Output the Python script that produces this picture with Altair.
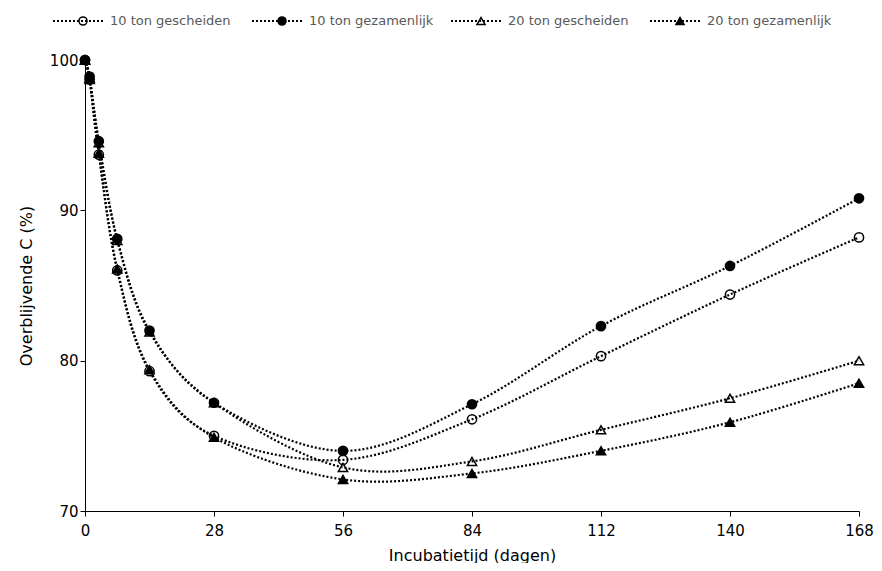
import altair as alt
import pandas as pd

days = [0, 1, 3, 7, 14, 28, 56, 84, 112, 140, 168]
series = ["10 ton gescheiden", "10 ton gezamenlijk", "20 ton gescheiden", "20 ton gezamenlijk"]
v10_gescheiden = [100, 98.7, 93.7, 86.0, 79.3, 75.0, 73.4, 76.1, 80.3, 84.4, 88.2]
v10_gezamenlijk = [100, 98.9, 94.6, 88.1, 82.0, 77.2, 74.0, 77.1, 82.3, 86.3, 90.8]
v20_gescheiden = [100, 98.8, 94.5, 88.0, 81.9, 77.2, 72.9, 73.3, 75.4, 77.5, 80.0]
v20_gezamenlijk = [100, 98.7, 93.8, 86.1, 79.4, 74.9, 72.1, 72.5, 74.0, 75.9, 78.5]
x_ticks = [0, 28, 56, 84, 112, 140, 168]
y_ticks = [70, 80, 90, 100]

values = [v10_gescheiden, v10_gezamenlijk, v20_gescheiden, v20_gezamenlijk]
rows = []
for i, (name, vals) in enumerate(zip(series, values)):
    for d, v in zip(days, vals):
        rows.append({"series": name, "order": i, "dag": d, "C": v})
df = pd.DataFrame(rows)
leg = pd.DataFrame({"series": series})

shape_scale = alt.Scale(domain=series, range=["circle", "circle", "triangle-up", "triangle-up"])
fill_scale = alt.Scale(domain=series, range=["transparent", "black", "transparent", "black"])
FONT = "DejaVu Sans"
DASH = [2, 2]

base = alt.Chart(df)
x = alt.X("dag:Q", title="Incubatietijd (dagen)",
          scale=alt.Scale(domain=[0, 168], nice=False, zero=False),
          axis=alt.Axis(values=x_ticks, grid=False, domainColor="black", tickColor="black",
                        tickSize=5, labelFontSize=15, titleFontSize=16, labelPadding=7,
                        titlePadding=9, labelColor="#000", titleColor="#000",
                        labelFont=FONT, titleFont=FONT, titleFontWeight="normal",
                        labelFlush=False))
y = alt.Y("C:Q", title="Overblijvende C (%)",
          scale=alt.Scale(domain=[70, 100], nice=False, zero=False),
          axis=alt.Axis(values=y_ticks, grid=False, domainColor="black", tickColor="black",
                        tickSize=5, labelFontSize=15, titleFontSize=16, labelPadding=2,
                        titlePadding=15, labelColor="#000", titleColor="#000",
                        labelFont=FONT, titleFont=FONT, titleFontWeight="normal"))

lines = base.mark_line(interpolate="cardinal", strokeDash=DASH, strokeWidth=2.2,
                       color="black").encode(x=x, y=y, detail="series:N")
points = base.mark_point(size=85, stroke="black", strokeWidth=1.5, opacity=1).encode(
    x=x, y=y,
    shape=alt.Shape("series:N", scale=shape_scale, legend=None),
    fill=alt.Fill("series:N", scale=fill_scale, legend=None),
    order=alt.Order("order:Q"),
)

# custom legend above the plot
lx = alt.X("series:N", scale=alt.Scale(type="point", domain=series, range=[-2, 595], padding=0),
           axis=None)
LY = -39
lbase = alt.Chart(leg)
lrule = lbase.mark_rule(strokeDash=DASH, strokeWidth=2.2, color="black",
                        xOffset=-30, x2Offset=22).encode(x=lx, x2="series:N", y=alt.value(LY))
lpts = lbase.mark_point(size=65, stroke="black", strokeWidth=1.5, opacity=1).encode(
    x=lx, y=alt.value(LY),
    shape=alt.Shape("series:N", scale=shape_scale, legend=None),
    fill=alt.Fill("series:N", scale=fill_scale, legend=None),
)
ltxt = lbase.mark_text(align="left", baseline="middle", dx=27, fontSize=13, font=FONT,
                       color="#595959").encode(x=lx, y=alt.value(LY), text="series:N")
legend = alt.layer(lrule, lpts, ltxt)

main = alt.layer(lines, points)
chart = alt.layer(main, legend).resolve_scale(x="independent").properties(
    width=866, height=555,
    autosize=alt.AutoSizeParams(type="fit", contains="padding"),
    padding={"left": 10, "top": 5, "right": 0, "bottom": 0},
).configure_view(stroke=None)

chart.save("out.html", embed_options={"renderer": "svg", "actions": False})
